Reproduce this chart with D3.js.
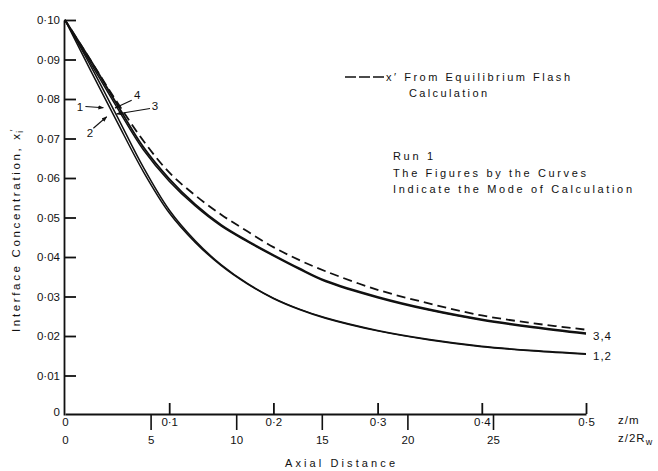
<!DOCTYPE html>
<html>
<head>
<meta charset="utf-8">
<script src="https://cdn.jsdelivr.net/npm/d3@7"></script>
<style>
  html,body{margin:0;padding:0;background:#fff;}
  svg{display:block;}
  text{font-family:"Liberation Sans",Arial,sans-serif;fill:#111;}
</style>
</head>
<body>
<svg id="chart" width="658" height="471"></svg>
<script>
// ---- data ----
const zValues = [0, 0.025, 0.05, 0.075, 0.1, 0.125, 0.15, 0.175, 0.2, 0.225, 0.25, 0.3, 0.35, 0.4, 0.45, 0.5];
const curve1 = [0.1000, 0.0870, 0.0742, 0.0617, 0.0512, 0.0437, 0.0378, 0.0332, 0.0295, 0.0267, 0.0245, 0.0213, 0.0190, 0.0173, 0.0162, 0.0154];
const curve2 = [0.1000, 0.0882, 0.0756, 0.0628, 0.0519, 0.0441, 0.0380, 0.0333, 0.0296, 0.0268, 0.0246, 0.0214, 0.0191, 0.0174, 0.0163, 0.0155];
const curve3 = [0.1000, 0.0889, 0.0778, 0.0672, 0.0592, 0.0529, 0.0478, 0.0439, 0.0403, 0.0369, 0.0338, 0.0297, 0.0265, 0.0240, 0.0221, 0.0205];
const curve4 = [0.1000, 0.0896, 0.0786, 0.0679, 0.0598, 0.0533, 0.0481, 0.0441, 0.0405, 0.0371, 0.0340, 0.0299, 0.0267, 0.0242, 0.0223, 0.0207];
const flashCurve = [0.1000, 0.0896, 0.0792, 0.0695, 0.0614, 0.0556, 0.0507, 0.0465, 0.0425, 0.0392, 0.0364, 0.0317, 0.0282, 0.0252, 0.0232, 0.0216];

const yTicks = [0, 0.01, 0.02, 0.03, 0.04, 0.05, 0.06, 0.07, 0.08, 0.09, 0.10];
const yTickLabels = ["0", "0·01", "0·02", "0·03", "0·04", "0·05", "0·06", "0·07", "0·08", "0·09", "0·10"];
const zTicks = [0, 0.1, 0.2, 0.3, 0.4, 0.5];
const zTickLabels = ["0", "0·1", "0·2", "0·3", "0·4", "0·5"];
const zRwTicks = [0, 5, 10, 15, 20, 25];
const zRwTickLabels = ["0", "5", "10", "15", "20", "25"];

// curve-number annotations: [label, labelZ, labelC, fromZ, fromC, toZ, toC]
const curveNotes = [
  ["1", 0.0144, 0.0781, 0.0196, 0.0781, 0.0368, 0.0778],
  ["2", 0.0240, 0.0713, 0.0272, 0.0726, 0.0400, 0.0755],
  ["4", 0.0694, 0.0810, 0.0640, 0.0797, 0.0480, 0.0777],
  ["3", 0.0864, 0.0783, 0.0816, 0.0776, 0.0496, 0.0762]
];
const endLabels = [["3,4", 0.0204], ["1,2", 0.0152]];

// ---- scales ----
const svg = d3.select("#chart");
const x = d3.scaleLinear().domain([0, 0.5]).range([65, 586]);
const xR = d3.scaleLinear().domain([0, 25]).range([65, 493]);
const y = d3.scaleLinear().domain([0, 0.10]).range([415, 20]);
const axisY0 = 414;

// ---- axes ----
const gy = svg.append("g").attr("transform", "translate(64,0)")
  .call(d3.axisLeft(y).tickValues(yTicks).tickFormat((d, i) => yTickLabels[i])
    .tickSizeInner(-12).tickSizeOuter(0).tickPadding(4));
gy.select(".domain").attr("stroke", "#111").attr("stroke-width", 1.8);
gy.selectAll(".tick line").attr("stroke", "#111").attr("stroke-width", 1.8)
  .attr("display", d => d === 0 ? "none" : null);
gy.selectAll(".tick text").attr("font-size", 11.5).attr("font-family", "Liberation Sans, Arial, sans-serif")
  .attr("fill", "#111").attr("dy", d => d === 0 ? "0.05em" : "0.32em");

const gx = svg.append("g").attr("transform", `translate(0,${axisY0})`)
  .call(d3.axisBottom(x).tickValues(zTicks).tickFormat((d, i) => zTickLabels[i])
    .tickSizeInner(-11).tickSizeOuter(0).tickPadding(4));
gx.select(".domain").attr("stroke", "#111").attr("stroke-width", 1.8);
gx.selectAll(".tick line").attr("stroke", "#111").attr("stroke-width", 1.8)
  .attr("display", d => d === 0 ? "none" : null);
gx.selectAll(".tick text").attr("font-size", 11.5).attr("font-family", "Liberation Sans, Arial, sans-serif")
  .attr("fill", "#111");

const gx2 = svg.append("g").attr("transform", `translate(0,${axisY0})`)
  .call(d3.axisBottom(xR).tickValues(zRwTicks).tickFormat((d, i) => zRwTickLabels[i])
    .tickSizeInner(16).tickSizeOuter(0).tickPadding(6));
gx2.select(".domain").remove();
gx2.selectAll(".tick line").attr("stroke", "#111").attr("stroke-width", 1.6)
  .attr("display", d => d === 0 ? "none" : null);
gx2.selectAll(".tick text").attr("font-size", 11.5).attr("font-family", "Liberation Sans, Arial, sans-serif")
  .attr("fill", "#111");

// axis unit labels
svg.append("text").attr("x", 618).attr("y", 424).attr("font-size", 11.5)
  .attr("letter-spacing", 1).text("z/m");
const zr = svg.append("text").attr("x", 618).attr("y", 442).attr("font-size", 11.5)
  .attr("letter-spacing", 1);
zr.append("tspan").text("z/2R");
zr.append("tspan").attr("dy", 3).attr("font-size", 9).text("w");

svg.append("text").attr("x", 285).attr("y", 467)
  .attr("font-size", 11).attr("textLength", 110).attr("lengthAdjust", "spacing").text("Axial  Distance");

const yl = svg.append("text").attr("transform", "translate(20,332) rotate(-90)")
  .attr("font-size", 11.5);
yl.append("tspan").attr("textLength", 198).attr("lengthAdjust", "spacing").text("Interface  Concentration,  x");
yl.append("tspan").attr("dy", -4).attr("font-size", 9).text("′");
yl.append("tspan").attr("dx", -3).attr("dy", 7).attr("font-size", 8.5).text("i");

// ---- curves ----
const line = d3.line().x(d => x(d[0])).y(d => y(d[1])).curve(d3.curveCatmullRom.alpha(0.5));
const solidSeries = [curve1, curve2, curve3, curve4];
svg.append("g").selectAll("path").data(solidSeries).join("path")
  .attr("d", s => line(zValues.map((z, i) => [z, s[i]])))
  .attr("fill", "none").attr("stroke", "#111").attr("stroke-width", (d, i) => i === 3 ? 1.9 : 1.5);

svg.append("path")
  .attr("d", line(zValues.map((z, i) => [z, flashCurve[i]])))
  .attr("fill", "none").attr("stroke", "#111").attr("stroke-width", 1.8)
  .attr("stroke-dasharray", "9,5").attr("stroke-dashoffset", -40);

// ---- curve annotations ----
const defs = svg.append("defs");
defs.append("marker").attr("id", "arr").attr("viewBox", "0 0 10 10")
  .attr("refX", 9).attr("refY", 5).attr("markerWidth", 5).attr("markerHeight", 5)
  .attr("orient", "auto").append("path").attr("d", "M0,1 L10,5 L0,9 Z").attr("fill", "#111");

const notes = svg.append("g");
curveNotes.forEach(n => {
  notes.append("line").attr("x1", x(n[3])).attr("y1", y(n[4])).attr("x2", x(n[5])).attr("y2", y(n[6]))
    .attr("stroke", "#111").attr("stroke-width", 1.1).attr("marker-end", "url(#arr)");
  notes.append("text").attr("x", x(n[1])).attr("y", y(n[2])).attr("text-anchor", "middle")
    .attr("dy", "0.35em").attr("font-size", 11.5).attr("fill", "#111").text(n[0]);
});
endLabels.forEach(e => {
  svg.append("text").attr("x", x(0.5) + 7).attr("y", y(e[1])).attr("dy", "0.45em")
    .attr("font-size", 11.5).attr("letter-spacing", 1).text(e[0]);
});

// ---- legend / notes ----
svg.append("line").attr("x1", 345).attr("y1", 77).attr("x2", 385).attr("y2", 77)
  .attr("stroke", "#111").attr("stroke-width", 1.6).attr("stroke-dasharray", "11,3");
svg.append("text").attr("x", 386).attr("y", 81).attr("font-size", 11)
  .attr("textLength", 184).attr("lengthAdjust", "spacing").text("x′ From Equilibrium Flash");
svg.append("text").attr("x", 409).attr("y", 97).attr("font-size", 11)
  .attr("textLength", 78).attr("lengthAdjust", "spacing").text("Calculation");
svg.append("text").attr("x", 393).attr("y", 160).attr("font-size", 11)
  .attr("textLength", 40).attr("lengthAdjust", "spacing").text("Run 1");
svg.append("text").attr("x", 393).attr("y", 177).attr("font-size", 11)
  .attr("textLength", 193).attr("lengthAdjust", "spacing").text("The Figures by the Curves");
svg.append("text").attr("x", 393).attr("y", 193).attr("font-size", 11)
  .attr("textLength", 239).attr("lengthAdjust", "spacing").text("Indicate the Mode of Calculation");
</script>
</body>
</html>
